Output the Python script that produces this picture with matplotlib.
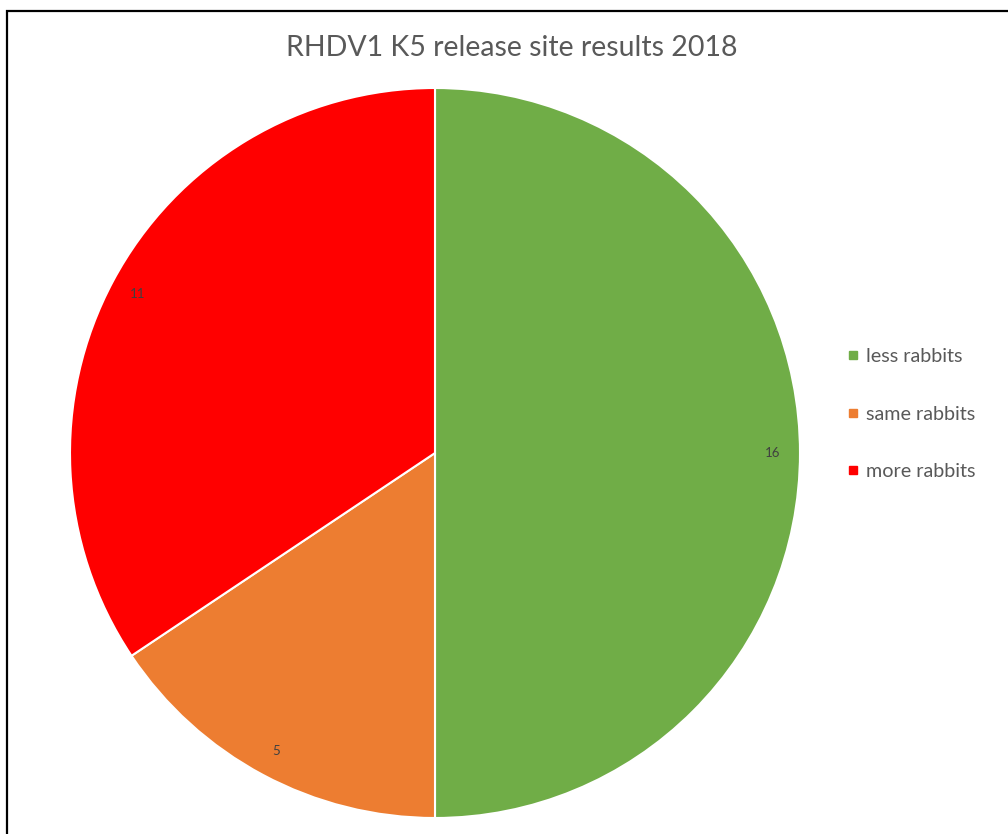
import matplotlib.pyplot as plt
from matplotlib.lines import Line2D
from matplotlib.patches import Rectangle

# data
labels = ['less rabbits', 'same rabbits', 'more rabbits']
values = [16, 5, 11]
colors = ['#70AD47', '#ED7D31', '#FF0000']

plt.rcParams['font.family'] = ['Lato', 'DejaVu Sans']

W, H = 1008, 834
fig = plt.figure(figsize=(W / 100, H / 100), dpi=100)

# pie centre (435, 453) px, radius 365 px
cx, cy, r = 435, 453, 365
ax = fig.add_axes([(cx - r) / W, (H - cy - r) / H, 2 * r / W, 2 * r / H])

wedges, texts, autotexts = ax.pie(
    values, colors=colors, startangle=90, counterclock=False,
    autopct=lambda p: f'{round(p * sum(values) / 100):d}',
    pctdistance=0.925, radius=1,
    wedgeprops=dict(edgecolor='white', linewidth=1.5),
    textprops=dict(color='#404040', fontsize=9.5))
ax.set_xlim(-1, 1)
ax.set_ylim(-1, 1)
ax.set_aspect('equal')
ax.axis('off')

fig.text(512 / W, (H - 48) / H, 'RHDV1 K5 release site results 2018',
         ha='center', va='center', fontsize=20.5, color='#595959')

handles = [Line2D([], [], marker='s', linestyle='none', color=c, markersize=6)
           for c in colors]
fig.legend(handles, labels, loc='center left',
           bbox_to_anchor=(823 / W, (H - 414) / H), frameon=False,
           fontsize=14.2, labelcolor='#595959', labelspacing=2.05,
           handletextpad=0.1, handlelength=1.2)

# outer frame (only top and left edges are visible)
fig.add_artist(Rectangle((6.5 / W, -0.2), 2, (H - 11.5) / H + 0.2,
                         transform=fig.transFigure, fill=False,
                         edgecolor='black', linewidth=1.6))

fig.savefig('out.png', dpi=100)
